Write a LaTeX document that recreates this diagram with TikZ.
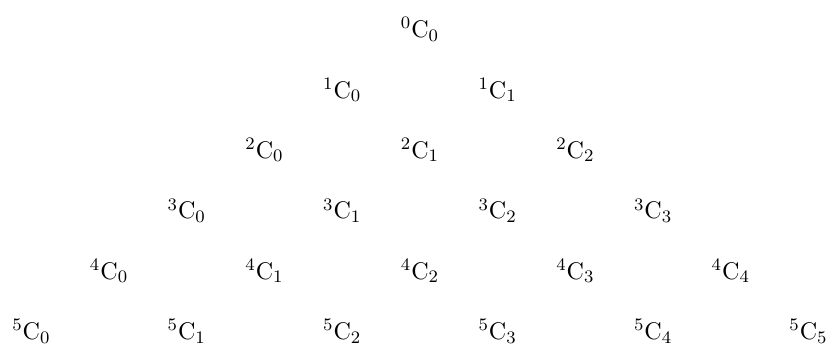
\documentclass[tikz,border=0pt]{standalone}
\usepackage{amsmath}
\usepackage{tikz}

\begin{document}
\begin{tikzpicture}[
    x=35.4pt, y=27.5pt,
    binom/.style={inner sep=0pt, font=\fontsize{11}{13}\selectfont}
]
\useasboundingbox (-191.3pt,13.4pt) rectangle (188.6pt,-145.2pt);

% rows of nCk
\foreach \n in {0,...,5}{
  \foreach \k in {0,...,\n}{
    \node[binom] (c\n\k) at ({2*\k-\n},{-\n}) {$^{\n}\mathrm{C}_{\k}$};
  }
}

\end{tikzpicture}
\end{document}
